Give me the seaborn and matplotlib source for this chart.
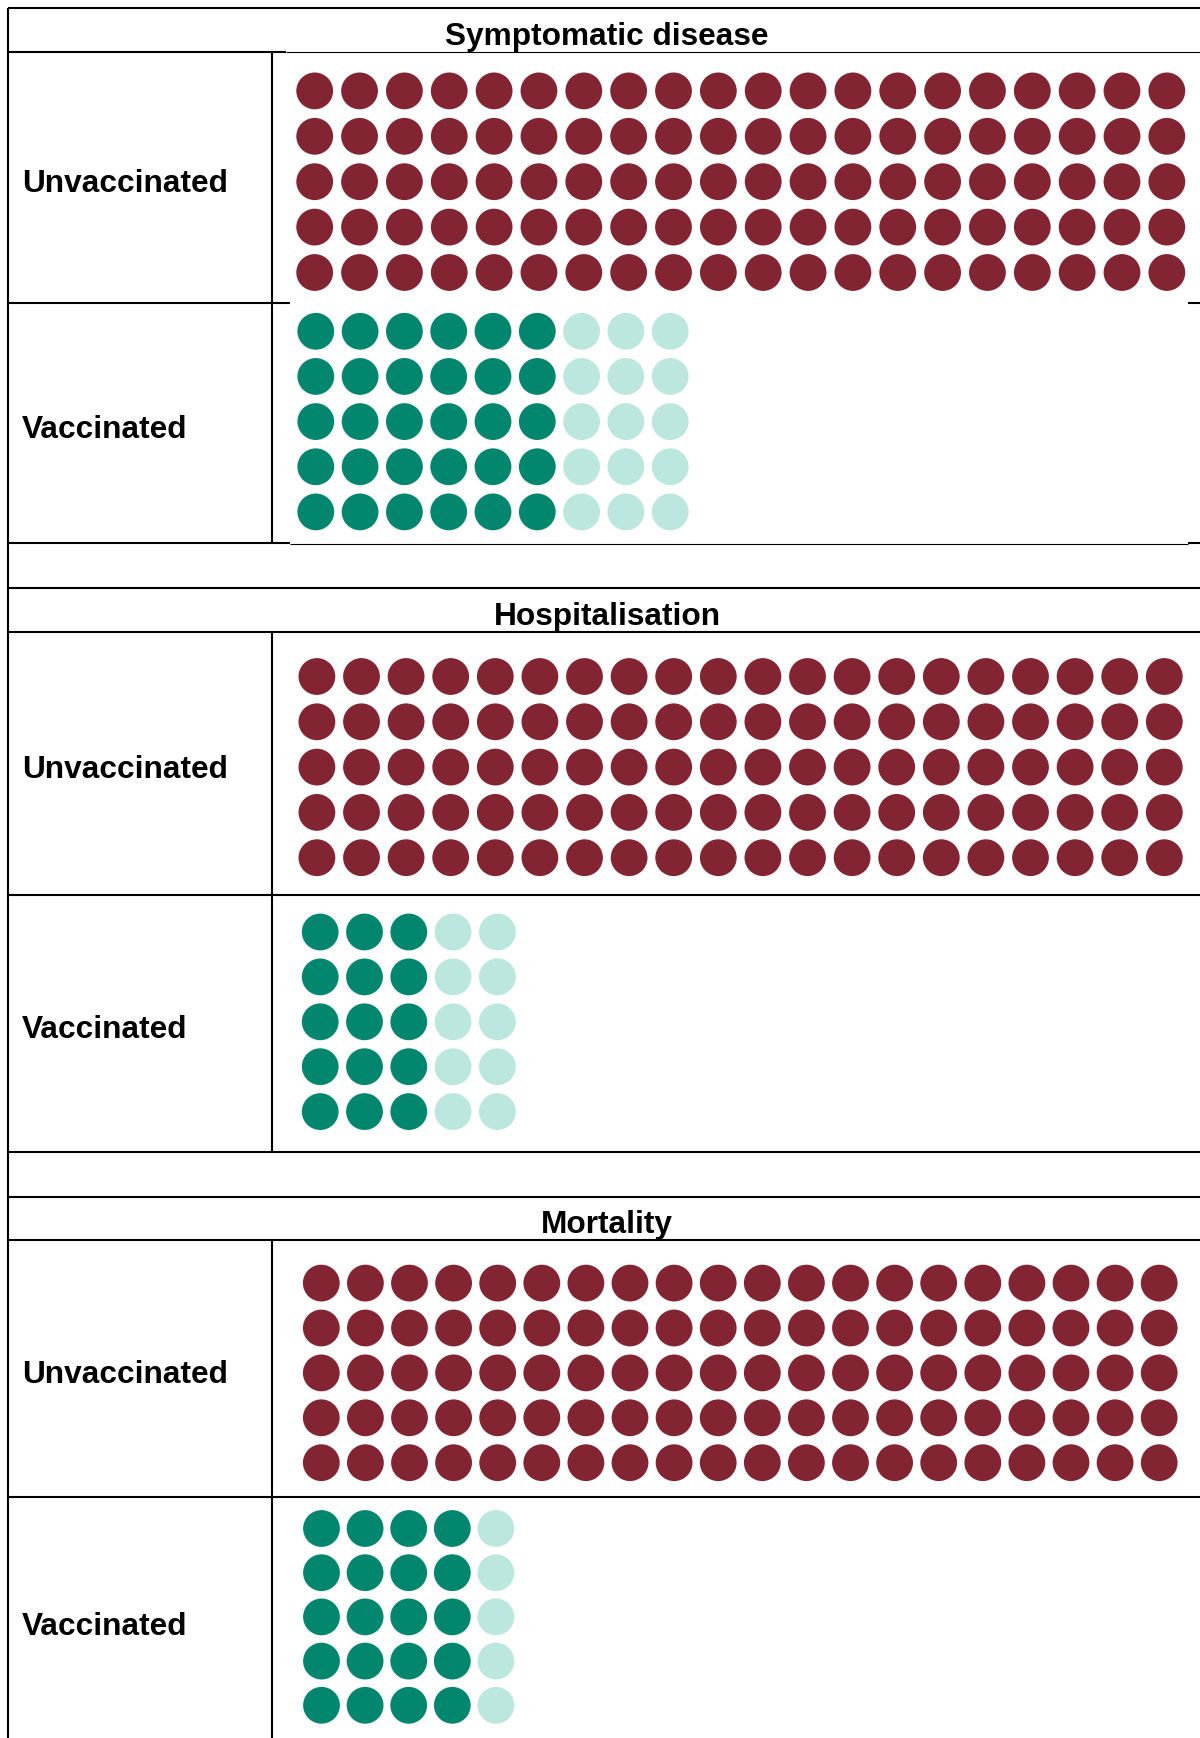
import pandas as pd
import numpy as np
import matplotlib
matplotlib.use("Agg")
import matplotlib.pyplot as plt
import seaborn as sns

# ==============================
# DATA
# ==============================

outcomes = ["Symptomatic disease", "Hospitalisation", "Mortality"]
groups = ["Unvaccinated", "Vaccinated"]

# dots are drawn as columns of 5
n_rows = 5
unvacc_cols = [20, 20, 20]
vacc_dark_cols = [6, 3, 4]
vacc_light_cols = [3, 2, 1]

colors = {"unvacc": "#822432", "vacc": "#03866E", "vacc_light": "#BBE7DF"}

# ==============================
# LAYOUT (pixels)
# ==============================

W, H = 1200, 1738
left, div_x = 7.5, 271.5
header_top = [7.8, 588, 1197]
header_bottom = [52, 632, 1240]
row1_bottom = [302.5, 895, 1497]
row2_bottom = [543, 1152, H + 5]

# first dot centre and spacing per block: (x0, dx, y0, dy)
grid_unvacc = [(314.7, 44.85, 90.9, 45.4), (316.9, 44.6, 676.5, 45.3), (321.3, 44.1, 1283.1, 44.9)]
grid_vacc = [(315.8, 44.3, 331.3, 45.15), (320.2, 44.3, 932.0, 44.9), (321.5, 43.6, 1528.5, 44.2)]

dot_px = 36.8

# build one table of dots
rows = []
for i, outcome in enumerate(outcomes):
    x0, dx, y0, dy = grid_unvacc[i]
    for c in range(unvacc_cols[i]):
        for r in range(n_rows):
            rows.append((outcome, "Unvaccinated", "unvacc", x0 + c * dx, y0 + r * dy))
    x0, dx, y0, dy = grid_vacc[i]
    for c in range(vacc_dark_cols[i] + vacc_light_cols[i]):
        status = "vacc" if c < vacc_dark_cols[i] else "vacc_light"
        for r in range(n_rows):
            rows.append((outcome, "Vaccinated", status, x0 + c * dx, y0 + r * dy))

df = pd.DataFrame(rows, columns=["outcome", "group", "status", "x", "y"])

# ==============================
# PLOT
# ==============================

sns.set_style("white")
plt.rcParams["font.family"] = ["Liberation Sans", "DejaVu Sans"]
plt.rcParams["text.color"] = "black"

fig = plt.figure(figsize=(W / 100, H / 100), dpi=100)
ax = fig.add_axes([0, 0, 1, 1])
ax.set_xlim(0, W)
ax.set_ylim(H, 0)
ax.axis("off")

size_pt = dot_px * 72 / 100
sns.scatterplot(data=df, x="x", y="y", hue="status", palette=colors,
                s=size_pt ** 2, linewidth=0, legend=False, ax=ax, zorder=3)

thick = 1.5
thin = 0.8
line_kw = dict(color="black", solid_capstyle="butt", zorder=2)

# outer border (left + top)
ax.plot([left, left], [header_top[0], H], lw=thick, **line_kw)

for i, outcome in enumerate(outcomes):
    ax.plot([left, W], [header_top[i], header_top[i]], lw=thick, **line_kw)
    if i == 0:
        # first block: picture pasted over the grid, lines only partly visible
        ax.plot([left, 286], [header_bottom[i]] * 2, lw=thick, **line_kw)
        ax.plot([286, W], [header_bottom[i]] * 2, lw=thin, **line_kw)
        ax.plot([left, 290], [row1_bottom[i]] * 2, lw=thick, **line_kw)
        ax.plot([1188, W], [row1_bottom[i]] * 2, lw=thick, **line_kw)
        ax.plot([left, 290], [row2_bottom[i]] * 2, lw=thick, **line_kw)
        ax.plot([290, 1188], [row2_bottom[i] + 0.5] * 2, lw=thin, **line_kw)
        ax.plot([1188, W], [row2_bottom[i]] * 2, lw=thick, **line_kw)
    else:
        for yy in (header_bottom[i], row1_bottom[i], row2_bottom[i]):
            ax.plot([left, W], [yy, yy], lw=thick, **line_kw)
    ax.plot([div_x, div_x], [header_bottom[i], row2_bottom[i]], lw=thick, **line_kw)

    # section title
    ax.text(607, header_bottom[i] - 7.5, outcome, ha="center", va="baseline",
            fontsize=22.8, fontweight="bold", color="black")

    # row labels
    mid1 = (header_bottom[i] + row1_bottom[i]) / 2 + 3.5
    mid2 = (row1_bottom[i] + row2_bottom[i]) / 2 + 4
    if i == 2:
        mid2 = 1624
    ax.text(22, mid1 + 11, groups[0], ha="left", va="baseline",
            fontsize=22.8, fontweight="bold", color="black")
    ax.text(22, mid2 + 11, groups[1], ha="left", va="baseline",
            fontsize=22.8, fontweight="bold", color="black")

fig.savefig("out.png", dpi=100)
